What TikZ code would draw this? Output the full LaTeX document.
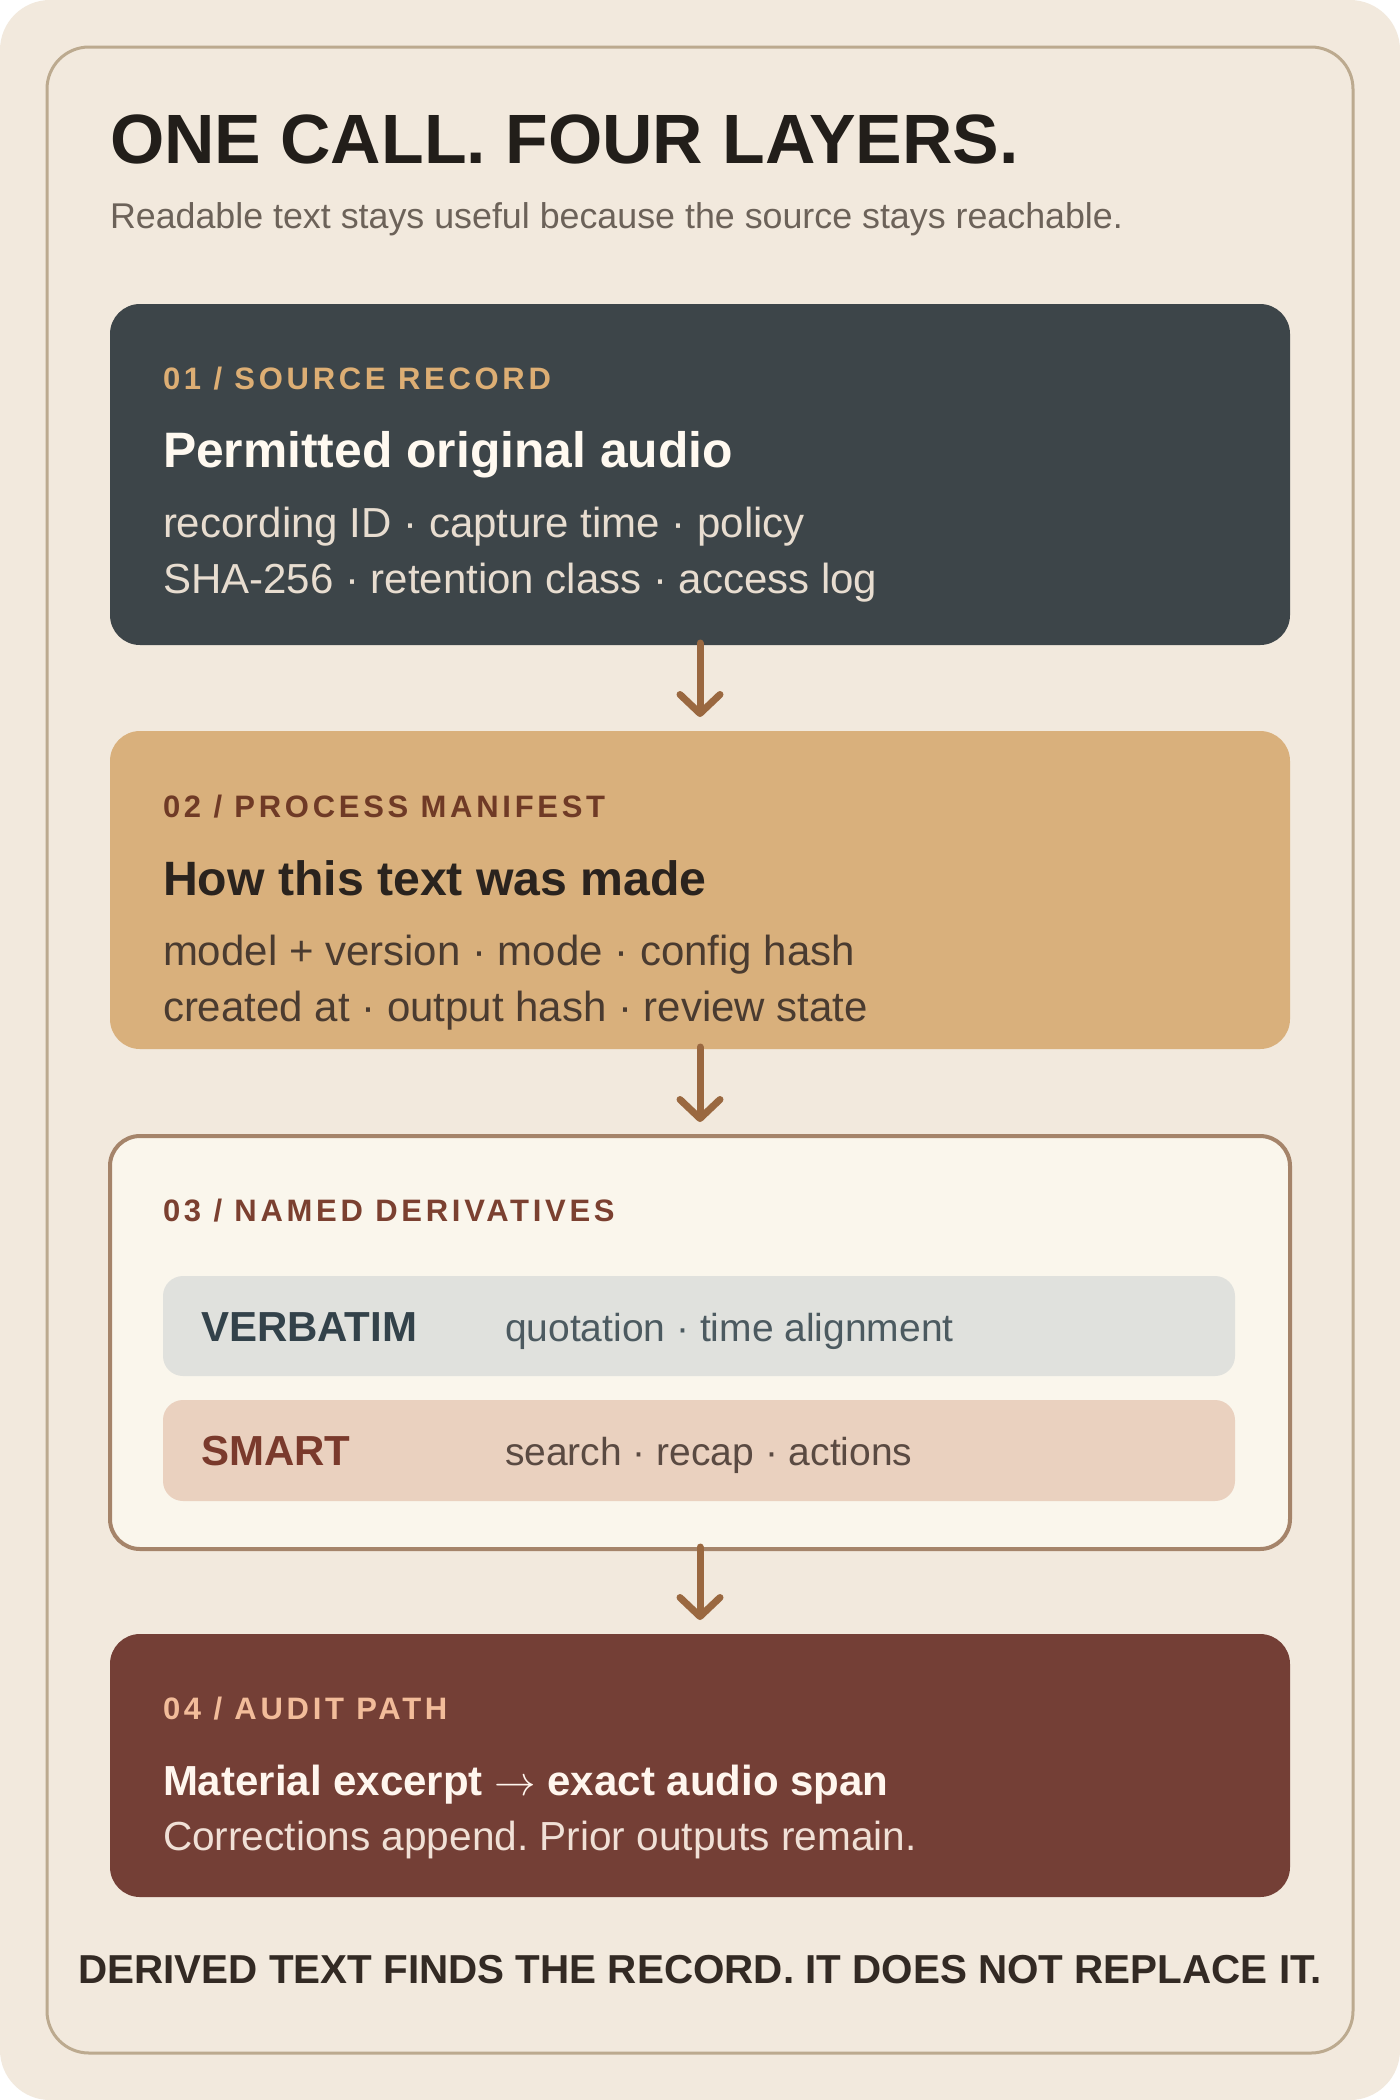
\documentclass[tikz,border=0pt]{standalone}
\usepackage{fontspec}
\setmainfont{Liberation Sans}
\newfontfamily\lblfont[LetterSpace=12]{Liberation Sans Bold}
\usetikzlibrary{arrows.meta}
\definecolor{pagebg}{HTML}{F2E9DD}
\definecolor{frameln}{HTML}{BCAA8F}
\definecolor{titlec}{HTML}{221E1A}
\definecolor{subc}{HTML}{6C6259}
\definecolor{boxA}{HTML}{3D4549}
\definecolor{lblA}{HTML}{DDAE74}
\definecolor{headA}{HTML}{FFF9F0}
\definecolor{lineA}{HTML}{E8DDD0}
\definecolor{boxB}{HTML}{D9B07C}
\definecolor{lblB}{HTML}{6F3A26}
\definecolor{headB}{HTML}{2A231E}
\definecolor{lineB}{HTML}{4A3B30}
\definecolor{arrowc}{HTML}{9A6840}
\definecolor{boxC}{HTML}{FAF6EC}
\definecolor{boxCln}{HTML}{A5846A}
\definecolor{lblC}{HTML}{7B4030}
\definecolor{verbbg}{HTML}{E0E1DD}
\definecolor{verbhd}{HTML}{33424A}
\definecolor{verbtx}{HTML}{4C5A60}
\definecolor{smartbg}{HTML}{EAD1BF}
\definecolor{smarthd}{HTML}{7A3A2C}
\definecolor{smarttx}{HTML}{5A4A42}
\definecolor{boxD}{HTML}{743F36}
\definecolor{lblD}{HTML}{F2BC9A}
\definecolor{headD}{HTML}{FFF6EE}
\definecolor{lineD}{HTML}{F0E0D6}
\definecolor{footc}{HTML}{332A24}
\newcommand\fsz[1]{\fontsize{#1}{#1}\selectfont}
\frenchspacing
\begin{document}
\begin{tikzpicture}[x=0.5pt,y=-0.5pt,
  txt/.style={anchor=base west, inner sep=0pt, outer sep=0pt, execute at begin node=\frenchspacing},
  layer/.style={rounded corners=15pt, minimum width=590pt, inner sep=0pt, outer sep=0pt},
  bar/.style={rounded corners=10pt, minimum width=536pt, inner sep=0pt, outer sep=0pt},
  lbl/.style={txt, font=\lblfont\fsz{15.5}},
  body/.style={txt, font=\fsz{21}},
  flow/.style={draw=arrowc, line width=3.5pt, line cap=round, shorten <=-1pt, shorten >=7pt,
    -{Straight Barb[length=9.5pt,width=20pt,round]}}
]
\useasboundingbox (0,0) rectangle (1400,2100);
\fill[white] (0,0) rectangle (1400,2100);
\fill[pagebg, rounded corners=25pt] (0,0) rectangle (1400,2100);
\draw[frameln, line width=1.5pt, rounded corners=21pt] (47,47) rectangle (1353,2053);

\node[txt, font=\bfseries\fsz{34.9}, text=titlec] (title) at (110,163) {ONE CALL. FOUR LAYERS.};
\node[txt, font=\fsz{17.9}, text=subc] (sub) at (110,228) {Readable text stays useful because the source stays reachable.};

% layer 1
\node[layer, fill=boxA, minimum height=170.5pt] (b1) at (700,474.5) {};
\node[lbl, text=lblA] (l1) at (163,389) {01 / SOURCE RECORD};
\node[txt, font=\bfseries\fsz{24.9}, text=headA] (h1) at (163,467) {Permitted original audio};
\node[body, text=lineA] (t1a) at (163,537) {recording ID · capture time · policy};
\node[body, text=lineA] (t1b) at (163,593) {SHA-256 · retention class · access log};

% layer 2
\node[layer, fill=boxB, minimum height=159pt] (b2) at (700,890) {};
\node[lbl, text=lblB] (l2) at (163,817) {02 / PROCESS MANIFEST};
\node[txt, font=\bfseries\fsz{24.1}, text=headB] (h2) at (163,895) {How this text was made};
\node[body, text=lineB] (t2a) at (163,965) {model + version · mode · config hash};
\node[body, text=lineB] (t2b) at (163,1021) {created at · output hash · review state};

% layer 3
\node[layer, fill=boxC, draw=boxCln, line width=2pt, minimum height=206.5pt] (b3) at (700,1342.5) {};
\node[lbl, text=lblC] (l3) at (163,1221) {03 / NAMED DERIVATIVES};
\node[bar, fill=verbbg, minimum height=50pt] (vb) at (699,1326) {};
\node[txt, font=\bfseries\fsz{21}, text=verbhd] (vh) at (201,1341) {VERBATIM};
\node[txt, font=\fsz{19.5}, text=verbtx] (vt) at (505,1341) {quotation · time alignment};
\node[bar, fill=smartbg, minimum height=50.5pt] (sb) at (699,1450.5) {};
\node[txt, font=\bfseries\fsz{21}, text=smarthd] (sh) at (201,1465) {SMART};
\node[txt, font=\fsz{19.5}, text=smarttx] (st) at (505,1465) {search · recap · actions};

% layer 4
\node[layer, fill=boxD, minimum height=131.5pt] (b4) at (700,1765.5) {};
\node[lbl, text=lblD] (l4) at (163,1719) {04 / AUDIT PATH};
\node[txt, font=\bfseries\fsz{21}, text=headD] (h4) at (163,1795) {Material excerpt \ensuremath{\rightarrow} exact audio span};
\node[txt, font=\fsz{20.3}, text=lineD] (t4) at (163,1850) {Corrections append. Prior outputs remain.};

% footer
\node[anchor=base, inner sep=0pt, font=\bfseries\fsz{20.2}, text=footc] (foot) at (700,1983) {DERIVED TEXT FINDS THE RECORD. IT DOES NOT REPLACE IT.};

% connectors
\draw[flow] (b1.south) -- (b2.north);
\draw[flow] (b2.south) -- (b3.north);
\draw[flow] (b3.south) -- (b4.north);
\end{tikzpicture}
\end{document}
